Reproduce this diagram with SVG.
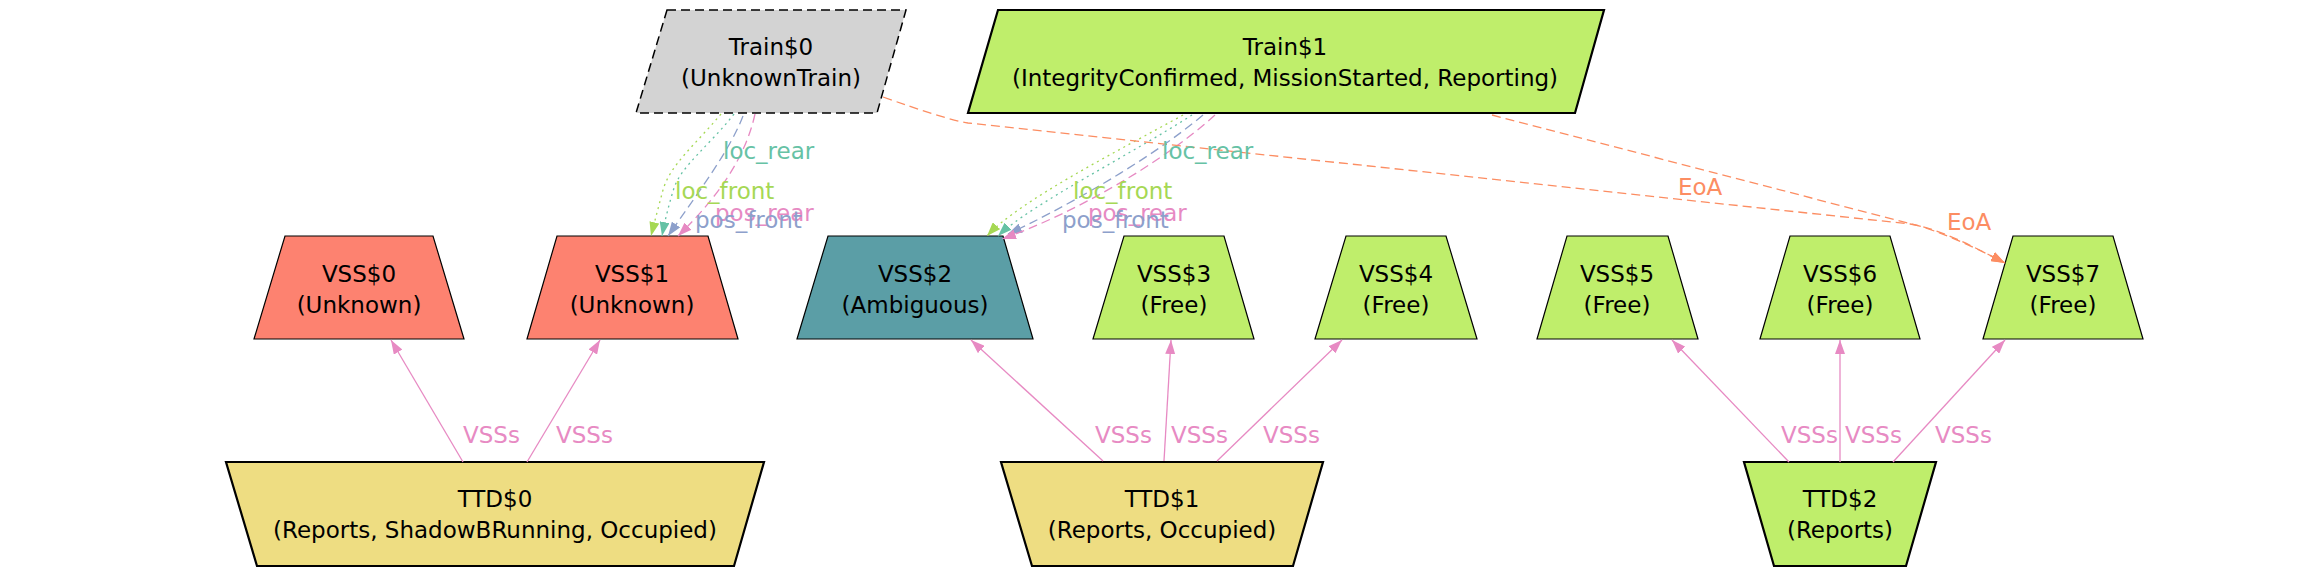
<svg xmlns="http://www.w3.org/2000/svg" width="2307" height="575" viewBox="0 0 2307 575">
<style>
text{font-family:"DejaVu Sans","Liberation Sans",sans-serif;font-size:23px;fill:#000}
.n text{text-anchor:middle}
.vss{stroke:#000;stroke-width:1.2}
.thick{stroke:#000;stroke-width:2.2}
.e{fill:none;stroke-width:1.3}
.dot{stroke-dasharray:2,4}
.dash{stroke-dasharray:9,5}
.g{stroke:#a6d854}.t{stroke:#66c2a5}.b{stroke:#8da0cb}.p{stroke:#e78ac3}.o{stroke:#fc8d62}
.lg{fill:#a6d854}.lt{fill:#66c2a5}.lb{fill:#8da0cb}.lp{fill:#e78ac3}.lo{fill:#fc8d62}
</style>
<defs>
<marker id="ag" markerWidth="15" markerHeight="10" refX="14" refY="5" orient="auto" markerUnits="userSpaceOnUse"><path d="M0,0 L14,5 L0,10 z" fill="#a6d854"/></marker>
<marker id="at" markerWidth="15" markerHeight="10" refX="14" refY="5" orient="auto" markerUnits="userSpaceOnUse"><path d="M0,0 L14,5 L0,10 z" fill="#66c2a5"/></marker>
<marker id="ab" markerWidth="15" markerHeight="10" refX="14" refY="5" orient="auto" markerUnits="userSpaceOnUse"><path d="M0,0 L14,5 L0,10 z" fill="#8da0cb"/></marker>
<marker id="ap" markerWidth="15" markerHeight="10" refX="14" refY="5" orient="auto" markerUnits="userSpaceOnUse"><path d="M0,0 L14,5 L0,10 z" fill="#e78ac3"/></marker>
<marker id="ao" markerWidth="15" markerHeight="10" refX="14" refY="5" orient="auto" markerUnits="userSpaceOnUse"><path d="M0,0 L14,5 L0,10 z" fill="#fc8d62"/></marker>
</defs>
<rect width="2307" height="575" fill="#fff"/>
<g class="n">
<g id="Train0"><polygon points="667,10 906,10 877,113 636,113" fill="#d3d3d3" stroke="#000" stroke-width="1.5" stroke-dasharray="9,5"/><text x="771" y="55">Train$0</text><text x="771" y="86">(UnknownTrain)</text></g>
<g id="Train1"><polygon class="thick" points="998,10 1604,10 1575,113 968,113" fill="#bfee6b"/><text x="1285" y="55">Train$1</text><text x="1285" y="86">(IntegrityConfirmed, MissionStarted, Reporting)</text></g>
<g id="VSS0"><polygon class="vss" points="285,236 433,236 464,339 254,339" fill="#fd8270"/><text x="359" y="282">VSS$0</text><text x="359" y="313">(Unknown)</text></g>
<g id="VSS1"><polygon class="vss" points="557,236 708,236 738,339 527,339" fill="#fd8270"/><text x="632" y="282">VSS$1</text><text x="632" y="313">(Unknown)</text></g>
<g id="VSS2"><polygon class="vss" points="828,236 1003,236 1033,339 797,339" fill="#5b9ea6"/><text x="915" y="282">VSS$2</text><text x="915" y="313">(Ambiguous)</text></g>
<g id="VSS3"><polygon class="vss" points="1124,236 1224,236 1254,339 1093,339" fill="#bfee6b"/><text x="1174" y="282">VSS$3</text><text x="1174" y="313">(Free)</text></g>
<g id="VSS4"><polygon class="vss" points="1346,236 1446,236 1477,339 1315,339" fill="#bfee6b"/><text x="1396" y="282">VSS$4</text><text x="1396" y="313">(Free)</text></g>
<g id="VSS5"><polygon class="vss" points="1567,236 1668,236 1698,339 1537,339" fill="#bfee6b"/><text x="1617" y="282">VSS$5</text><text x="1617" y="313">(Free)</text></g>
<g id="VSS6"><polygon class="vss" points="1790,236 1890,236 1920,339 1760,339" fill="#bfee6b"/><text x="1840" y="282">VSS$6</text><text x="1840" y="313">(Free)</text></g>
<g id="VSS7"><polygon class="vss" points="2013,236 2113,236 2143,339 1983,339" fill="#bfee6b"/><text x="2063" y="282">VSS$7</text><text x="2063" y="313">(Free)</text></g>
<g id="TTD0"><polygon class="thick" points="226,462 764,462 734,566 257,566" fill="#eedd82"/><text x="495" y="507">TTD$0</text><text x="495" y="538">(Reports, ShadowBRunning, Occupied)</text></g>
<g id="TTD1"><polygon class="thick" points="1001,462 1323,462 1293,566 1032,566" fill="#eedd82"/><text x="1162" y="507">TTD$1</text><text x="1162" y="538">(Reports, Occupied)</text></g>
<g id="TTD2"><polygon class="thick" points="1744,462 1936,462 1906,566 1774,566" fill="#bfee6b"/><text x="1840" y="507">TTD$2</text><text x="1840" y="538">(Reports)</text></g>
</g>
<g id="connectors">
<path class="e dot g" d="M721,114 C695,145 670,165 663,190 C659,205 655,220 651,236" marker-end="url(#ag)"/>
<path class="e dot t" d="M734,114 C710,145 682,165 674,188 C669,204 665,220 662,236" marker-end="url(#at)"/>
<path class="e dash b" d="M743,116 C730,150 700,190 668,236" marker-end="url(#ab)"/>
<path class="e dash p" d="M755,114 C745,160 715,200 678,236" marker-end="url(#ap)"/>
<path class="e dot g" d="M1183,115 C1120,150 1020,200 987,236" marker-end="url(#ag)"/>
<path class="e dot t" d="M1192,115 C1130,155 1030,205 998,236" marker-end="url(#at)"/>
<path class="e dash b" d="M1203,115 C1150,160 1060,210 1008,234" marker-end="url(#ab)"/>
<path class="e dash p" d="M1215,115 C1160,165 1070,215 1002,239" marker-end="url(#ap)"/>
<path class="e dash o" d="M883,97 C920,110 950,120 968,123 L1910,224 C1940,229 1970,245 2005,263" marker-end="url(#ao)"/>
<path class="e dash o" d="M1492,115 L1923,227 C1955,238 1980,250 2005,263" marker-end="url(#ao)"/>
<path class="e p" d="M463,462 L391,340" marker-end="url(#ap)"/>
<path class="e p" d="M527,462 L600,340" marker-end="url(#ap)"/>
<path class="e p" d="M1103,461 L971,340" marker-end="url(#ap)"/>
<path class="e p" d="M1164,461 L1171,340" marker-end="url(#ap)"/>
<path class="e p" d="M1217,461 L1342,340" marker-end="url(#ap)"/>
<path class="e p" d="M1789,462 L1672,340" marker-end="url(#ap)"/>
<path class="e p" d="M1840,462 L1840,340" marker-end="url(#ap)"/>
<path class="e p" d="M1893,462 L2005,340" marker-end="url(#ap)"/>
<text class="lt" x="723" y="159">loc_rear</text>
<text class="lg" x="675" y="199">loc_front</text>
<text class="lp" x="715" y="221">pos_rear</text>
<text class="lb" x="695" y="228">pos_front</text>
<text class="lt" x="1162" y="159">loc_rear</text>
<text class="lg" x="1073" y="199">loc_front</text>
<text class="lp" x="1088" y="221">pos_rear</text>
<text class="lb" x="1062" y="228">pos_front</text>
<text class="lo" x="1678" y="195">EoA</text>
<text class="lo" x="1947" y="230">EoA</text>
<text class="lp" x="463" y="443">VSSs</text>
<text class="lp" x="556" y="443">VSSs</text>
<text class="lp" x="1095" y="443">VSSs</text>
<text class="lp" x="1171" y="443">VSSs</text>
<text class="lp" x="1263" y="443">VSSs</text>
<text class="lp" x="1781" y="443">VSSs</text>
<text class="lp" x="1845" y="443">VSSs</text>
<text class="lp" x="1935" y="443">VSSs</text>
</g>
</svg>
